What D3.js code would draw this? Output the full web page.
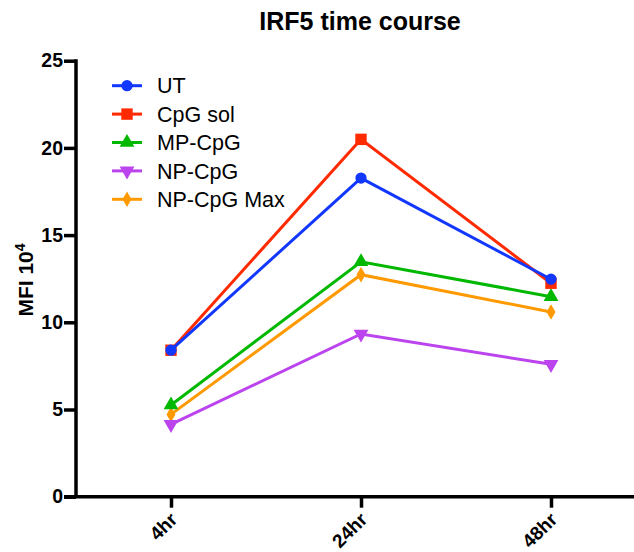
<!DOCTYPE html>
<html>
<head>
<meta charset="utf-8">
<script src="https://cdn.jsdelivr.net/npm/d3@7"></script>
<style>
  body { margin: 0; background: #fff; }
  svg { display: block; font-family: "Liberation Sans", Arial, sans-serif; }
</style>
</head>
<body>
<svg id="chart" width="634" height="552"></svg>
<script>
const categories = ["4hr", "24hr", "48hr"];
const seriesNames = ["UT", "CpG sol", "MP-CpG", "NP-CpG", "NP-CpG Max"];
const utValues = [8.4, 18.27, 12.47];
const cpgSolValues = [8.4, 20.49, 12.24];
const mpCpgValues = [5.26, 13.47, 11.47];
const npCpgValues = [4.15, 9.33, 7.59];
const npCpgMaxValues = [4.72, 12.73, 10.59];
const yTicks = [0, 5, 10, 15, 20, 25];

const seriesValues = [utValues, cpgSolValues, mpCpgValues, npCpgValues, npCpgMaxValues];
const colors = ["#1238ff", "#ff2a00", "#00b800", "#bb44ee", "#ff9900"];
const symbols = [d3.symbolCircle, d3.symbolSquare, d3.symbolTriangle, "down", d3.symbolDiamond];
const symSizes = [100, 130, 95, 95, 70];
const FONT = "Liberation Sans, Arial, sans-serif";

const svg = d3.select("#chart");
const x = d3.scalePoint().domain(categories).range([76, 646]).padding(0.5);
const y = d3.scaleLinear().domain([0, 25]).range([496.7, 60.7]);

// title
svg.append("text").attr("x", 360).attr("y", 30).attr("text-anchor", "middle")
  .attr("font-size", 25).attr("font-weight", "bold").text("IRF5 time course");

// y axis
const yAxis = svg.append("g").attr("transform", "translate(76,0)")
  .call(d3.axisLeft(y).tickValues(yTicks).tickSize(12).tickPadding(1).tickFormat(d3.format("d")));
yAxis.select(".domain").attr("stroke", "#000").attr("stroke-width", 3.5).attr("d", `M0,${y(25)-1.5}V${y(0)}`);
yAxis.selectAll(".tick line").attr("stroke", "#000").attr("stroke-width", 3.5);
yAxis.selectAll(".tick text").attr("font-size", 19.5).attr("font-weight", "bold").attr("fill", "#000")
  .attr("font-family", FONT);

// x axis
const xAxis = svg.append("g").attr("transform", `translate(0,${y(0)})`)
  .call(d3.axisBottom(x).tickSize(11).tickFormat(d => d));
xAxis.select(".domain").attr("stroke", "#000").attr("stroke-width", 3.5).attr("d", "M64,0H640");
xAxis.selectAll(".tick line").attr("stroke", "#000").attr("stroke-width", 3.5);
xAxis.selectAll(".tick text")
  .attr("font-size", 19).attr("font-weight", "bold").attr("fill", "#000")
  .attr("font-family", FONT)
  .attr("text-anchor", "end").attr("dy", null)
  .attr("transform", "translate(7,24) rotate(-45)")
  .attr("y", 0).attr("x", 0);

// y label
const yl = svg.append("text").attr("transform", "translate(33,280) rotate(-90)")
  .attr("text-anchor", "middle").attr("font-size", 21).attr("font-weight", "bold");
yl.append("tspan").text("MFI 10");
yl.append("tspan").attr("font-size", 14).attr("dy", -8).text("4");

function symPath(i) {
  if (symbols[i] === "down") {
    return d3.symbol().type(d3.symbolTriangle).size(symSizes[i])();
  }
  return d3.symbol().type(symbols[i]).size(symSizes[i])();
}
function symTransform(i, px, py) {
  return symbols[i] === "down" ? `translate(${px},${py}) rotate(180)` : `translate(${px},${py})`;
}

// lines (reverse order so UT on top)
const line = d3.line().x((d, j) => x(categories[j])).y(d => y(d));
const order = [4, 3, 2, 1, 0];
order.forEach(i => {
  const g = svg.append("g");
  g.append("path").attr("d", line(seriesValues[i])).attr("fill", "none")
    .attr("stroke", colors[i]).attr("stroke-width", 3);
  seriesValues[i].forEach((v, j) => {
    g.append("path").attr("d", symPath(i)).attr("fill", colors[i])
      .attr("transform", symTransform(i, x(categories[j]), y(v)));
  });
});

// legend
seriesNames.forEach((name, i) => {
  const ly = 85.7 + i * 28.4;
  const g = svg.append("g");
  g.append("line").attr("x1", 112).attr("x2", 142).attr("y1", ly).attr("y2", ly)
    .attr("stroke", colors[i]).attr("stroke-width", 3);
  g.append("path").attr("d", symPath(i)).attr("fill", colors[i])
    .attr("transform", symTransform(i, 127, ly));
  g.append("text").attr("x", 157).attr("y", ly).attr("dy", "0.36em")
    .attr("font-size", 21.5).text(name);
});
</script>
</body>
</html>
